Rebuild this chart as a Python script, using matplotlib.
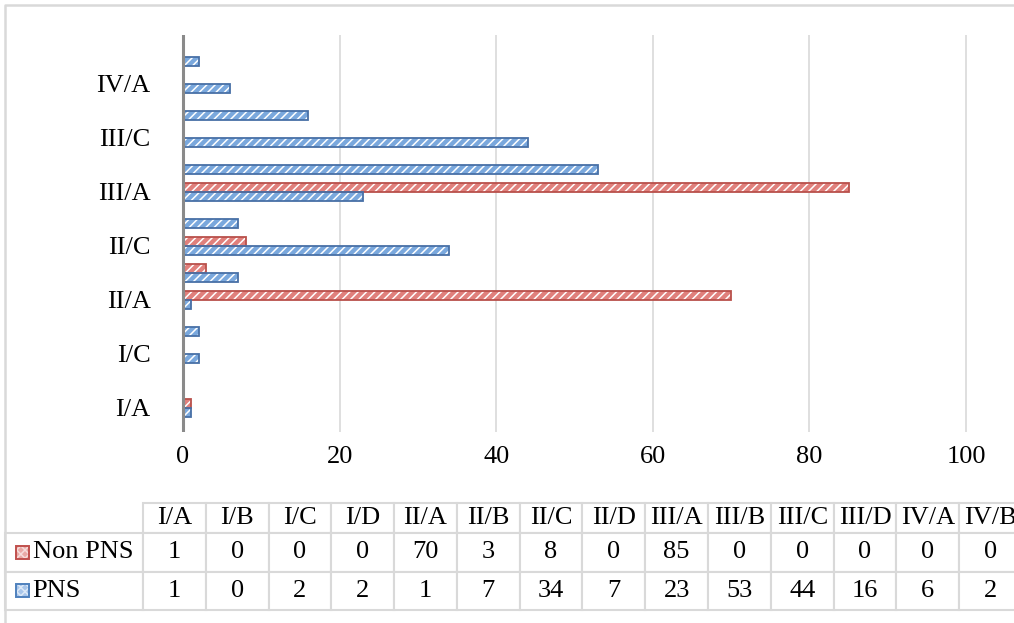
import matplotlib
matplotlib.use("Agg")
import matplotlib.pyplot as plt
import numpy as np
from matplotlib.table import Table
from matplotlib.patches import Rectangle

plt.rcParams['font.family'] = ['Liberation Serif', 'DejaVu Serif']
plt.rcParams['hatch.linewidth'] = 1.1

stages = ['I/A', 'I/B', 'I/C', 'I/D', 'II/A', 'II/B', 'II/C', 'II/D',
          'III/A', 'III/B', 'III/C', 'III/D', 'IV/A', 'IV/B']
non_pns = [1, 0, 0, 0, 70, 3, 8, 0, 85, 0, 0, 0, 0, 0]
pns = [1, 0, 2, 2, 1, 7, 34, 7, 23, 53, 44, 16, 6, 2]
series_names = ['Non PNS', 'PNS']
xticks = [0, 20, 40, 60, 80, 100]

red_fill, red_edge = '#e0807c', '#b9504b'
blue_fill, blue_edge = '#7aa8dd', '#4870a6'
grid_col = '#d9d9d9'
FS = 19

W, H = 1014, 623
fig = plt.figure(figsize=(W / 100, H / 100), dpi=100)


def px_axes(x0, y0, x1, y1, **kw):
    # axes from pixel box (top-left origin)
    return fig.add_axes([x0 / W, 1 - y1 / H, (x1 - x0) / W, (y1 - y0) / H], **kw)


# --- bar chart ---
ax = px_axes(170, 35, 1000, 432)
scale = (966 - 183) / 100.0
ax.set_xlim(-(183 - 170) / scale, 100 + (1000 - 966) / scale)
ax.set_ylim(-(432 - 408) / 27.0, 13 + (57 - 35) / 27.0)

y = np.arange(len(stages))
bh = 0.32
for vals, off, fc, ec in [(non_pns, 0.16, red_fill, red_edge),
                          (pns, -0.16, blue_fill, blue_edge)]:
    ax.barh(y + off, vals, height=bh, color=fc, edgecolor='white',
            linewidth=0, hatch='////', zorder=3)
    ax.barh(y + off, vals, height=bh, facecolor='none', edgecolor=ec,
            linewidth=1.3, zorder=4)

for xv in xticks[1:]:
    ax.axvline(xv, color=grid_col, lw=1.2, zorder=1)
ax.axvline(0, color='#8a8a8a', lw=2.2, zorder=5)

ax.set_xticks(xticks)
ax.set_xticklabels([str(v) for v in xticks], fontsize=FS)
ax.set_yticks(y[::2])
ax.set_yticklabels(stages[::2], fontsize=FS)
ax.tick_params(axis='both', length=0)
ax.tick_params(axis='x', pad=10)
ax.tick_params(axis='y', pad=14)
for s in ax.spines.values():
    s.set_visible(False)

# --- data table ---
tax = fig.add_axes([0, 0, 1, 1])
tax.axis('off')
tbl = Table(tax, bbox=[5 / W, (H - 610) / H, (1022 - 5) / W, (610 - 503) / H])
label_w = 138
col_w = 62.8
row_h = [30, 39, 38]
cell = tbl.add_cell(0, 0, label_w, row_h[0], text='')
cell.visible_edges = ''
for j, s in enumerate(stages):
    tbl.add_cell(0, j + 1, col_w, row_h[0], text=s, loc='center')
for i, (name, vals) in enumerate(zip(series_names, [non_pns, pns])):
    c = tbl.add_cell(i + 1, 0, label_w, row_h[i + 1], text=name, loc='left')
    c.PAD = 0.2
    for j, v in enumerate(vals):
        tbl.add_cell(i + 1, j + 1, col_w, row_h[i + 1], text=str(v), loc='center')
tbl.auto_set_font_size(False)
for (r, c_), cl in tbl.get_celld().items():
    cl.set_edgecolor(grid_col)
    cl.set_linewidth(1.5)
    cl.get_text().set_fontsize(FS)
tax.add_table(tbl)

# --- frame and legend keys on top ---
ov = fig.add_axes([0, 0, 1, 1], zorder=5)
ov.set_xlim(0, W)
ov.set_ylim(H, 0)
ov.axis('off')
ov.plot([5, 5, W], [H, 5, 5], color=grid_col, lw=1.8, clip_on=False)
for ky, fc, hc, ec in [(546, '#e9a9a6', '#f6dcdb', '#c0504d'),
                       (584, '#a9c6ea', '#dde9f7', '#4f81bd')]:
    ov.add_patch(Rectangle((16, ky), 13, 13, facecolor=fc, edgecolor=hc,
                           lw=0, hatch='xxxx', zorder=3))
    ov.add_patch(Rectangle((16, ky), 13, 13, facecolor='none', edgecolor=ec,
                           lw=1.4, zorder=4))

fig.savefig('out.png', dpi=100)
